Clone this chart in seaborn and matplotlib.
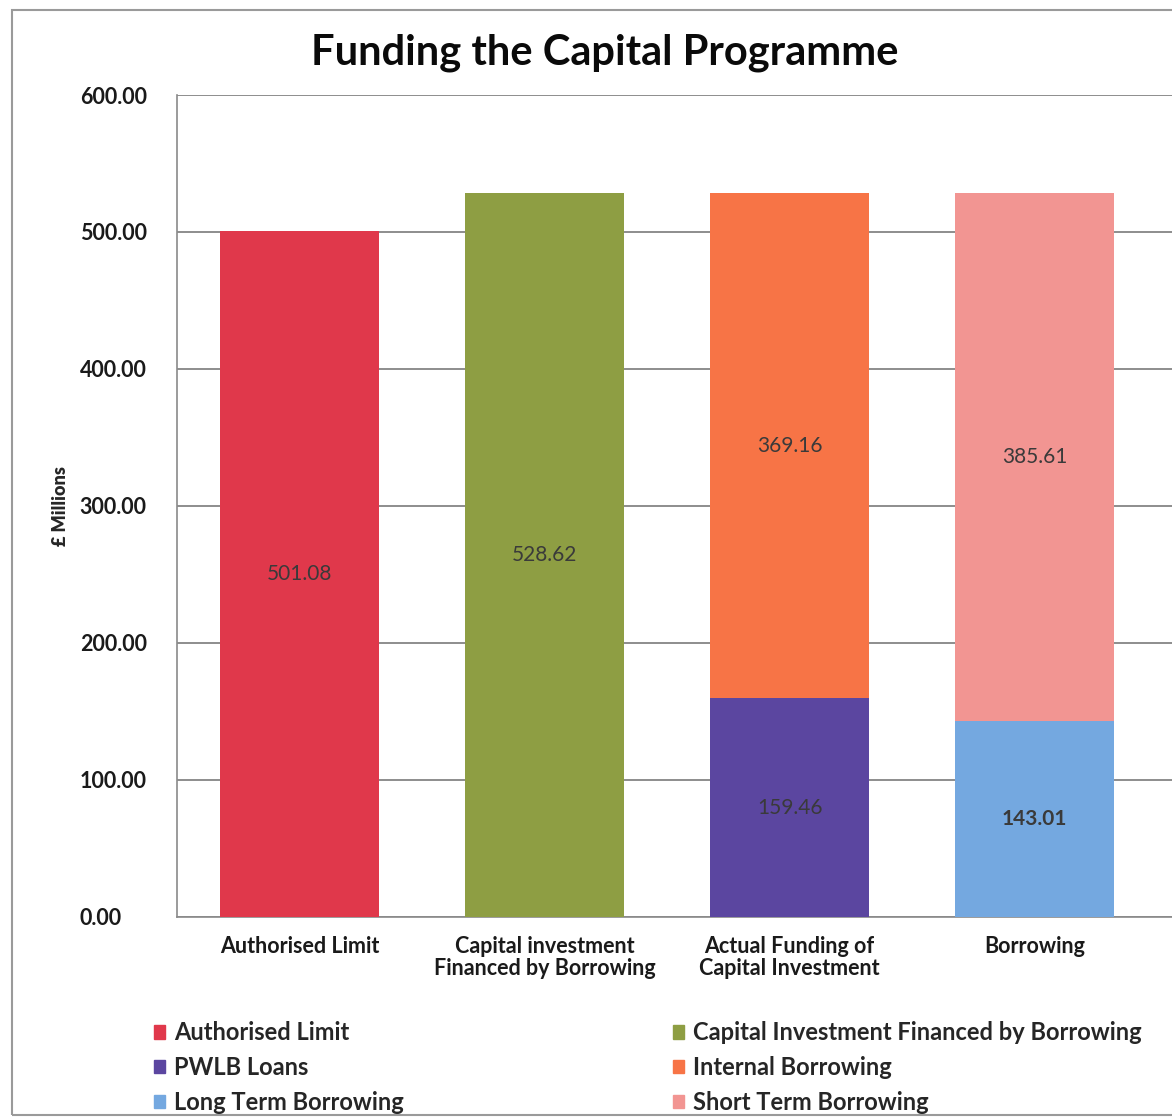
import matplotlib
matplotlib.use("Agg")
import matplotlib.pyplot as plt
import matplotlib.patches as mpatches
import seaborn as sns
import pandas as pd

categories = ["Authorised Limit",
              "Capital investment\nFinanced by Borrowing",
              "Actual Funding of\nCapital Investment",
              "Borrowing"]

# series: (legend name, category index, value, colour)
series_names = ["Authorised Limit", "Capital Investment Financed by Borrowing",
                "PWLB Loans", "Internal Borrowing",
                "Long Term Borrowing", "Short Term Borrowing"]
series_cat = [0, 1, 2, 2, 3, 3]
series_vals = [501.08, 528.62, 159.46, 369.16, 143.01, 385.61]
series_colors = ["#E0384B", "#8E9E43", "#5B46A0", "#F77446", "#74A8E0", "#F29592"]

sns.set_style("white")
plt.rcParams["font.family"] = ["Lato", "DejaVu Sans"]

rows = []
base = {}
for name, c, v in zip(series_names, series_cat, series_vals):
    b = base.get(c, 0.0)
    rows.append(dict(category=categories[c], series=name, value=v, base=b))
    base[c] = b + v
df = pd.DataFrame(rows)

fig = plt.figure(figsize=(11.72, 11.18), dpi=100)
ax = fig.add_axes([0.151, 0.180, 0.849, 0.735])

handles = {}
for name, col in zip(series_names, series_colors):
    sub = df[df["series"] == name]
    sns.barplot(data=sub, x="category", y="value", order=categories,
                color=col, saturation=1, width=0.65, bottom=sub["base"].values,
                ax=ax, zorder=3, linewidth=0)
    cont = ax.containers[-1]
    ax.bar_label(cont, labels=[f"{v:.2f}" for v in sub["value"]],
                 label_type="center", fontsize=15, color="#3a3a3a",
                 fontweight="bold" if name == "Long Term Borrowing" else "normal")
    handles[name] = mpatches.Patch(color=col, label=name)

ax.set_ylim(0, 600)
ax.set_xlim(-0.5, 3.56)
ax.set_yticks(range(0, 601, 100))
ax.set_yticklabels([f"{t:.2f}" for t in range(0, 601, 100)], fontsize=15.5,
                   fontweight="bold", color="#1a1a1a")
ax.set_xticks(range(len(categories)))
ax.set_xticklabels(categories, fontsize=15.5, fontweight="bold",
                   color="#1a1a1a", linespacing=1.05)
ax.tick_params(axis="x", pad=14, length=0)
ax.tick_params(axis="y", pad=70, length=0)
for lab in ax.get_yticklabels():
    lab.set_horizontalalignment("left")
ax.set_xlabel("")
ax.set_ylabel("£ Millions", fontsize=13, labelpad=8)
ax.yaxis.label.set_fontweight("heavy")
ax.yaxis.grid(True, color="#7a7a7a", linewidth=1.2, zorder=0)
for s in ["top", "right"]:
    ax.spines[s].set_visible(False)
ax.spines["left"].set_color("#8a8a8a")
ax.spines["bottom"].set_color("#8a8a8a")
ax.spines["left"].set_linewidth(1.2)
ax.spines["bottom"].set_linewidth(1.2)

ax.set_title("Funding the Capital Programme", fontsize=30, fontweight="bold",
             pad=22, x=0.43, color="#0a0a0a")

order = ["Authorised Limit", "PWLB Loans", "Long Term Borrowing",
         "Capital Investment Financed by Borrowing", "Internal Borrowing",
         "Short Term Borrowing"]
fig.legend(handles=[handles[n] for n in order], ncol=2, frameon=False,
           loc="upper left", bbox_to_anchor=(0.113, 0.1055),
           prop=dict(size=17, weight="bold"),
           handlelength=0.5, handleheight=0.5, handletextpad=0.35,
           labelspacing=0.5, columnspacing=11.4)

fig.patches.append(mpatches.Rectangle((0.010, 0.003), 1.2, 0.988,
                                      transform=fig.transFigure, fill=False,
                                      edgecolor="#9a9a9a", linewidth=1.5))

fig.savefig("out.png", dpi=100)
